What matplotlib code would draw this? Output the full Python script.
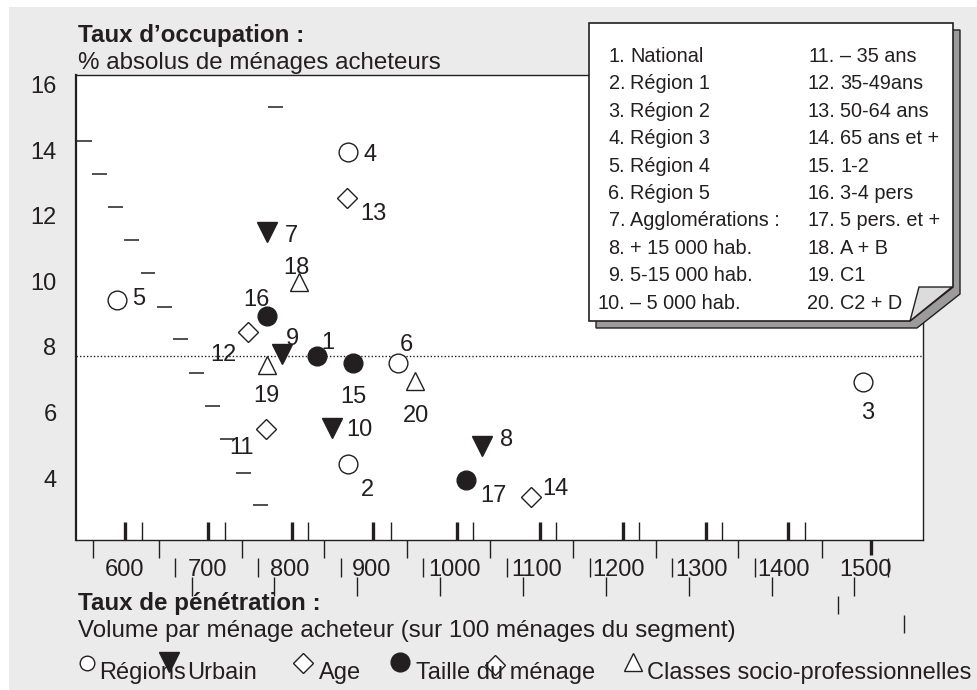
import matplotlib.pyplot as plt
from matplotlib.patches import Polygon, Rectangle
from matplotlib.transforms import blended_transform_factory

plt.rcParams['font.family'] = ['Liberation Sans', 'DejaVu Sans']

INK = '#231f20'
PANEL = '#ebebeb'

# segments 1..20 : volume per buying household (x) vs % of buying households (y)
seg_num = list(range(1, 21))
seg_names = ['National', 'Région 1', 'Région 2', 'Région 3', 'Région 4',
             'Région 5', 'Agglomérations :', '+ 15 000 hab.', '5-15 000 hab.',
             '– 5 000 hab.', '– 35 ans', '35-49ans', '50-64 ans', '65 ans et +',
             '1-2', '3-4 pers', '5 pers. et +', 'A + B', 'C1', 'C2 + D']
penetration = [833, 871, 1496, 871, 590, 932, 772, 1034, 791, 851,
               771, 749, 870, 1093, 877, 772, 1014, 811, 772, 952]
occupation = [7.73, 4.43, 6.93, 13.95, 9.44, 7.51, 11.51, 4.98, 7.79, 5.53,
              5.50, 8.46, 12.55, 3.42, 7.51, 8.95, 3.94, 9.98, 7.45, 6.96]
seg_group = ['nat', 'reg', 'reg', 'reg', 'reg', 'reg', 'urb', 'urb', 'urb', 'urb',
             'age', 'age', 'age', 'age', 'tai', 'tai', 'tai', 'csp', 'csp', 'csp']
national = occupation[0]

x_ticks = [600, 700, 800, 900, 1000, 1100, 1200, 1300, 1400, 1500]
y_ticks = [4, 6, 8, 10, 12, 14, 16]

legend_groups = ['reg', 'urb', 'age', 'tai', 'age', 'csp']
legend_names = ['Régions', 'Urbain', 'Age', 'Taille du ménage', '', 'Classes socio-professionnelles']

# marker style per group: marker, size, filled
styles = {
    'nat': ('o', 13.5, True),
    'reg': ('o', 13.5, False),
    'urb': ('v', 14.5, True),
    'age': ('D', 10.5, False),
    'tai': ('o', 13.5, True),
    'csp': ('^', 13, False),
}

# where each number sits relative to its marker (pixels, right / down)
label_offsets = [(11, -15), (19, 24), (5, 28), (22, 0), (22, -3), (8, -21),
                 (25, 1), (24, -8), (10, -17), (28, 0), (-24, 17), (-24, 21),
                 (26, 14), (25, -10), (0, 31), (-10, -18), (28, 14), (-2, -17),
                 (0, 28), (1, 32)]

# stray tick marks of the original axes
dash_x = [542, 560, 579, 599, 619, 639, 658, 678, 697, 715, 735, 756, 774]
dash_y = [14.29, 13.28, 12.27, 11.27, 10.26, 9.22, 8.24, 7.21, 6.20, 5.19,
          4.15, 3.18, 15.33]
tick_rows = [
    # x positions, top px, bottom px, width
    ([600, 701, 803, 901, 1003, 1104, 1205, 1306, 1405], 522, 540, 2.4),
    ([621, 722, 822, 923, 1023, 1124, 1224, 1325, 1426], 522, 540, 1.0),
    ([561, 641, 742, 842, 943, 1043, 1144, 1245, 1345, 1447], 540, 558, 1.0),
    ([1506], 540, 555, 2.4),
    ([661, 762, 862, 962, 1064, 1165, 1264, 1365, 1527], 558, 577, 1.0),
    ([681, 781, 882, 983, 1083, 1184, 1285, 1386, 1486], 577, 596, 1.0),
    ([1466], 596, 614, 1.0),
    ([1546], 615, 633, 1.0),
]

W, H = 977, 690
fig = plt.figure(figsize=(W / 100, H / 100), dpi=100, facecolor='white')
fig.add_artist(Rectangle((9 / W, 0), 1 - 9 / W, 1 - 7 / H, transform=fig.transFigure,
                         facecolor=PANEL, edgecolor='none', zorder=0))

ax = fig.add_axes([76 / W, 1 - 540 / H, (923 - 76) / W, (540 - 75) / H], zorder=2)
ax.set_xlim(540.5, 1569.3)
ax.set_ylim(2.107, 16.305)
for s in ax.spines.values():
    s.set_color(INK)
    s.set_linewidth(1.0)
ax.spines['left'].set_linewidth(1.6)

ax.set_xticks(x_ticks)
ax.set_xticklabels([str(v) for v in x_ticks])
ax.set_yticks(y_ticks)
ax.set_yticklabels([str(v) for v in y_ticks])
ax.tick_params(axis='x', length=0, pad=14, labelsize=17, labelcolor=INK)
ax.tick_params(axis='y', length=0, pad=14, labelsize=17, labelcolor=INK)

# overlay in figure pixels for titles, notes and legend
over = fig.add_axes([0, 0, 1, 1], zorder=3)
over.set_xlim(0, W)
over.set_ylim(H, 0)
over.axis('off')
over.patch.set_alpha(0)

ax.axhline(national, color=INK, lw=1.0, ls=(0, (1, 1.5)), zorder=1)

for i in range(len(dash_x)):
    ax.plot([dash_x[i], dash_x[i] + 18], [dash_y[i], dash_y[i]], color=INK,
            lw=1.1, solid_capstyle='butt', zorder=1)

tick_trans = blended_transform_factory(ax.transData, over.transData)
for xs, y0, y1, lw in tick_rows:
    ax.vlines(xs, y0, y1, colors=INK, lw=lw, transform=tick_trans, clip_on=False)

for i in range(len(seg_num)):
    m, ms, filled = styles[seg_group[i]]
    ax.plot(penetration[i], occupation[i], marker=m, ms=ms, ls='none',
            mfc=INK if filled else 'white', mec=INK, mew=1.0, zorder=3)
    dx, dy = label_offsets[i]
    ax.annotate(str(seg_num[i]), (penetration[i], occupation[i]), xytext=(dx, -dy),
                textcoords='offset pixels', ha='center', va='center_baseline',
                fontsize=17, color=INK, zorder=4)

# axis titles
over.text(78, 42, 'Taux d\u2019occupation :', fontsize=17.4, fontweight='bold', color=INK)
over.text(78, 69, '% absolus de ménages acheteurs', fontsize=17.4, color=INK)
over.text(78, 610, 'Taux de pénétration :', fontsize=17.4, fontweight='bold', color=INK)
over.text(78, 637, 'Volume par ménage acheteur (sur 100 ménages du segment)',
          fontsize=17.4, color=INK)

# note sheet with folded corner
box = [(589, 23), (953, 23), (953, 287), (910, 321), (589, 321)]
over.add_patch(Polygon([(x + 7, y + 7) for x, y in box], closed=True,
                       facecolor='#9b9b9b', edgecolor=INK, lw=1.0))
over.add_patch(Polygon(box, closed=True, facecolor='white', edgecolor=INK, lw=1.2))
over.add_patch(Polygon([(910, 321), (919, 287), (952, 287)], closed=True,
                       facecolor='#dcdcdc', edgecolor=INK, lw=1.0))
for i in range(len(seg_num)):
    col, row = divmod(i, 10)
    y = 62 + 27.4 * row
    xn = 625 if col == 0 else 835
    over.text(xn, y, f'{seg_num[i]}.', ha='right', fontsize=14.3, color=INK)
    over.text(xn + 5, y, seg_names[i], ha='left', fontsize=14.3, color=INK)

# symbol key
key_marks = [(87, 663), (169, 662), (303, 663), (400, 662), (495, 665), (633, 662)]
key_sizes = [10.5, 14.5, 10.5, 13.5, 10.5, 13]
key_text_x = [99, 187, 319, 416, 0, 647]
for i in range(len(legend_groups)):
    m, ms, filled = styles[legend_groups[i]]
    over.plot(*key_marks[i], marker=m, ms=key_sizes[i], ls='none',
              mfc=INK if filled else 'white', mec=INK, mew=1.0, zorder=2)
    if legend_names[i]:
        over.text(key_text_x[i], 679, legend_names[i], fontsize=17, color=INK, zorder=3)

fig.savefig('out.png', dpi=100)
